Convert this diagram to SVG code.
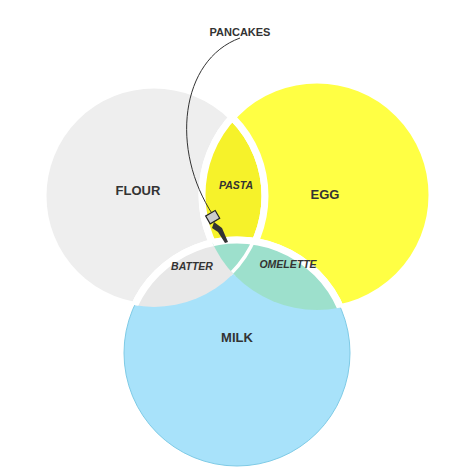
<svg xmlns="http://www.w3.org/2000/svg" width="474" height="474" viewBox="0 0 474 474">
<style>
.t{font-family:"Liberation Sans",Arial,sans-serif;font-weight:bold;fill:#333;text-anchor:middle}
.big{font-size:13px}.sm{font-size:10.5px;font-style:italic}
.w{stroke:#fff;stroke-width:7}
</style>
<defs>
<clipPath id="cF"><circle cx="154" cy="196" r="111"/></clipPath>
<clipPath id="cE"><circle cx="317" cy="195" r="115"/></clipPath>
</defs>
<rect width="474" height="474" fill="#fff"/>
<g id="flour"><circle cx="154" cy="196" r="111" fill="#eeeeee" class="w"/><text class="t big" x="138" y="195">FLOUR</text></g>
<g id="egg"><circle cx="317" cy="195" r="115" fill="#ffff44" class="w"/><text class="t big" x="325" y="199">EGG</text></g>
<g id="milk"><circle cx="237" cy="353" r="113" fill="#a8e2fa" stroke="#7fcbe6" stroke-width="1"/><circle cx="237" cy="353" r="113" fill="none" class="w" clip-path="url(#cF)"/><circle cx="237" cy="353" r="113" fill="none" class="w" clip-path="url(#cE)"/><text class="t big" x="237" y="342">MILK</text></g>
<g id="pasta" clip-path="url(#cF)"><circle cx="317" cy="195" r="115" fill="#f6f22a" class="w"/><text class="t sm" x="236" y="189">PASTA</text></g>
<g id="pasta-edge" clip-path="url(#cE)"><circle cx="154" cy="196" r="111" fill="none" class="w"/></g>
<g id="batter" clip-path="url(#cF)"><circle cx="237" cy="353" r="113" fill="#e8e8e8" class="w"/><text class="t sm" x="192" y="270">BATTER</text></g>
<g id="omelette" clip-path="url(#cE)"><circle cx="237" cy="353" r="113" fill="#9de0cc" class="w"/><text class="t sm" x="288" y="268">OMELETTE</text></g>
<g id="center" clip-path="url(#cE)"><g clip-path="url(#cF)"><circle cx="154" cy="196" r="111" fill="none" class="w"/></g></g>
<g id="connectors"><path d="M240 38 C180 60 170 150 213 215" fill="none" stroke="#333" stroke-width="1"/></g>
<g id="pancakes"><text class="t" font-size="11" x="240" y="36">PANCAKES</text>
<g id="hand"><rect x="207" y="213" width="11" height="9" fill="#ccc" stroke="#222" stroke-width="1.2" transform="rotate(-30 212 217)"/><path d="M214 222 L222 228 L228 242 L225 243 L218 232 L212 228Z" fill="#333"/></g></g>
</svg>
